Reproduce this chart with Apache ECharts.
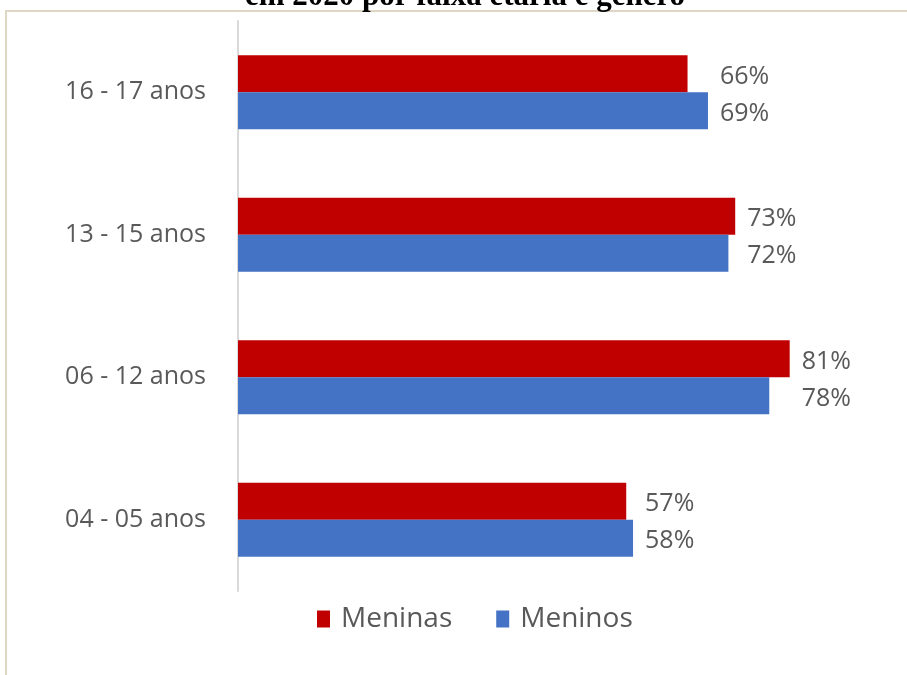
<!DOCTYPE html>
<html>
<head>
<meta charset="utf-8">
<script src="https://cdn.jsdelivr.net/npm/echarts@6/dist/echarts.min.js"></script>
<style>
	html, body { margin: 0; padding: 0; background: #fff; }
	#chart { width: 907px; height: 675px; }
</style>
</head>
<body>
<div id="chart"></div>
<script>
	// faixas etárias (de baixo para cima)
	const categories = ['04 - 05 anos', '06 - 12 anos', '13 - 15 anos', '16 - 17 anos']
	const meninas = [57, 81, 73, 66]
	const meninos = [58, 78, 72, 69]
	const seriesNames = ['Meninas', 'Meninos']
	const titleText = 'em 2020 por faixa etária e gênero'

	const font = 'Open Sans'
	const gray = '#595959'

	const dom = echarts.init(document.getElementById('chart'))

	const labelStyle = {
		show: true,
		position: 'right',
		distance: 12,
		color: gray,
		fontFamily: font,
		fontSize: 25,
		formatter: p => p.value + '%'
	}

	let option = {
		animation: false,
		backgroundColor: '#fff',
		graphic: [{
			type: 'rect',
			shape: { x: 6, y: 11, width: 930, height: 700 },
			style: { fill: 'none', stroke: '#ddd7c4', lineWidth: 2 },
			silent: true
		}, {
			type: 'text',
			x: 465,
			y: 12,
			style: {
				text: titleText,
				font: 'bold 31px "Liberation Serif"',
				fill: '#000',
				textAlign: 'center',
				textVerticalAlign: 'bottom'
			}
		}],
		legend: {
			data: seriesNames,
			left: 312,
			top: 600,
			itemWidth: 13,
			itemHeight: 17,
			itemGap: 44,
			icon: 'rect',
			textStyle: {
				color: gray,
				fontFamily: font,
				fontSize: 28,
				padding: [0, 0, 0, 6]
			}
		},
		grid: {
			left: 238,
			top: 21,
			width: 613,
			height: 570
		},
		xAxis: {
			type: 'value',
			min: 0,
			max: 90,
			show: false
		},
		yAxis: {
			type: 'category',
			data: categories,
			axisLine: {
				show: true,
				lineStyle: { color: '#d9d9d9', width: 2 }
			},
			axisTick: { show: false },
			axisLabel: {
				margin: 32,
				color: gray,
				fontFamily: font,
				fontSize: 25
			}
		},
		// a primeira série fica em cima em cada grupo
		series: [{
			name: 'Meninas',
			type: 'bar',
			data: meninas,
			barWidth: 37,
			barGap: '0%',
			itemStyle: { color: '#c00000' },
			label: labelStyle
		}, {
			name: 'Meninos',
			type: 'bar',
			data: meninos,
			barWidth: 37,
			barGap: '0%',
			itemStyle: { color: '#4472c4' },
			label: labelStyle
		}]
	}

	dom.setOption(option)

	// rótulos alinhados por grupo, como no Excel
	const px = dom.convertToPixel({ xAxisIndex: 0 }, 1) - dom.convertToPixel({ xAxisIndex: 0 }, 0)
	const groupMax = categories.map((c, i) => Math.max(meninas[i], meninos[i]))
	const withOffset = arr => arr.map((v, i) => ({
		value: v,
		label: { offset: [(groupMax[i] - v) * px, 3] }
	}))
	dom.setOption({
		series: [{ data: withOffset(meninas) }, { data: withOffset(meninos) }]
	})
</script>
</body>
</html>
